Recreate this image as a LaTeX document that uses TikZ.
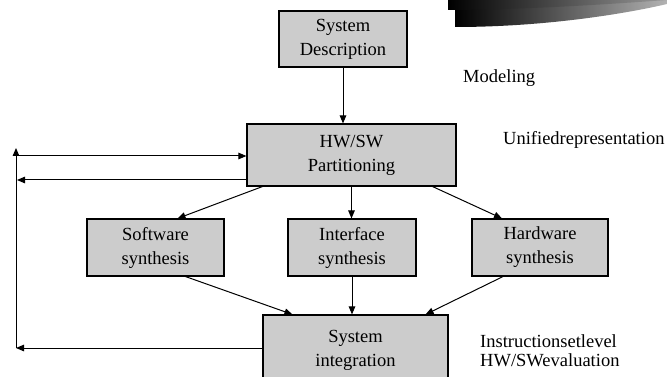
\documentclass[tikz,border=0pt]{standalone}
\usepackage{fontspec}
\setmainfont{Liberation Serif}
\usetikzlibrary{arrows.meta}

\tikzset{
  block/.style={draw, line width=1.1pt, fill=black!20, align=center,
    font=\fontsize{18.5}{24}\selectfont, inner sep=0pt},
  note/.style={anchor=west, align=left, inner sep=0pt,
    font=\fontsize{18.5}{19}\selectfont},
  link/.style={->, line width=1pt},
}

\begin{document}
\begin{tikzpicture}[x=1pt, y=-1pt, >={Triangle[length=8pt,width=6.5pt]}]
\clip (0,0) rectangle (667,377);

% swoosh in the corner
\shade[left color=black, right color=black!30] (455,9) -- (455,27) .. controls (540,27) and (620,15) .. (667,4) -- (667,0) -- (455,0) -- cycle;
\shade[left color=black, right color=black!40] (448,0) -- (448,10) -- (455,10) .. controls (540,9) and (610,4) .. (667,0) -- cycle;

% blocks
\node[block, minimum width=128, minimum height=56] (sysdesc) at (343,39) {System\\Description};
\node[block, minimum width=209, minimum height=62] (hwsw) at (351.5,155) {HW/SW\\Partitioning};
\node[block, minimum width=137, minimum height=57] (sw) at (155.5,247.5) {Software\\synthesis};
\node[block, minimum width=128, minimum height=57] (intf) at (352,247.5) {Interface\\synthesis};
\node[block, minimum width=136, minimum height=57] (hw) at (540,247.5) {Hardware\\synthesis};
\node[block, minimum width=185, minimum height=70] (sysint) at (355.5,350) {System\\integration};

% side labels
\node[note] (model) at (463,78) {Modeling};
\node[note] (unif) at (503,140) {Unifiedrepresentation};
\node[note] (instr) at (480,351) {Instructionsetlevel\\HW/SWevaluation};

% down the flow
\draw[link] (sysdesc.south) -- (sysdesc.south |- hwsw.north);
\draw[link] ([xshift=16pt]hwsw.south west) -- ([xshift=22pt]sw.north);
\draw[link] (hwsw.south) -- (hwsw.south |- intf.north);
\draw[link] ([xshift=-24pt]hwsw.south east) -- ([xshift=-38pt]hw.north);
\draw[link] ([xshift=30pt]sw.south) -- ([xshift=30pt]sysint.north west);
\draw[link] (intf.south) -- (intf.south |- sysint.north);
\draw[link] ([xshift=-37pt]hw.south) -- ([xshift=-23pt]sysint.north east);

% feedback loop on the left
\coordinate (fbbot) at (16,348);
\coordinate (fbtop) at (16,148);
\coordinate (fbin) at (16,156);
\coordinate (fbout) at (17,180);
\draw[link] (fbbot -| sysint.west) -- (fbbot);
\draw[link] (fbbot) -- (fbtop);
\draw[link] (fbin) -- (fbin -| hwsw.west);
\draw[link] (fbout -| hwsw.west) -- (fbout);

\end{tikzpicture}
\end{document}
